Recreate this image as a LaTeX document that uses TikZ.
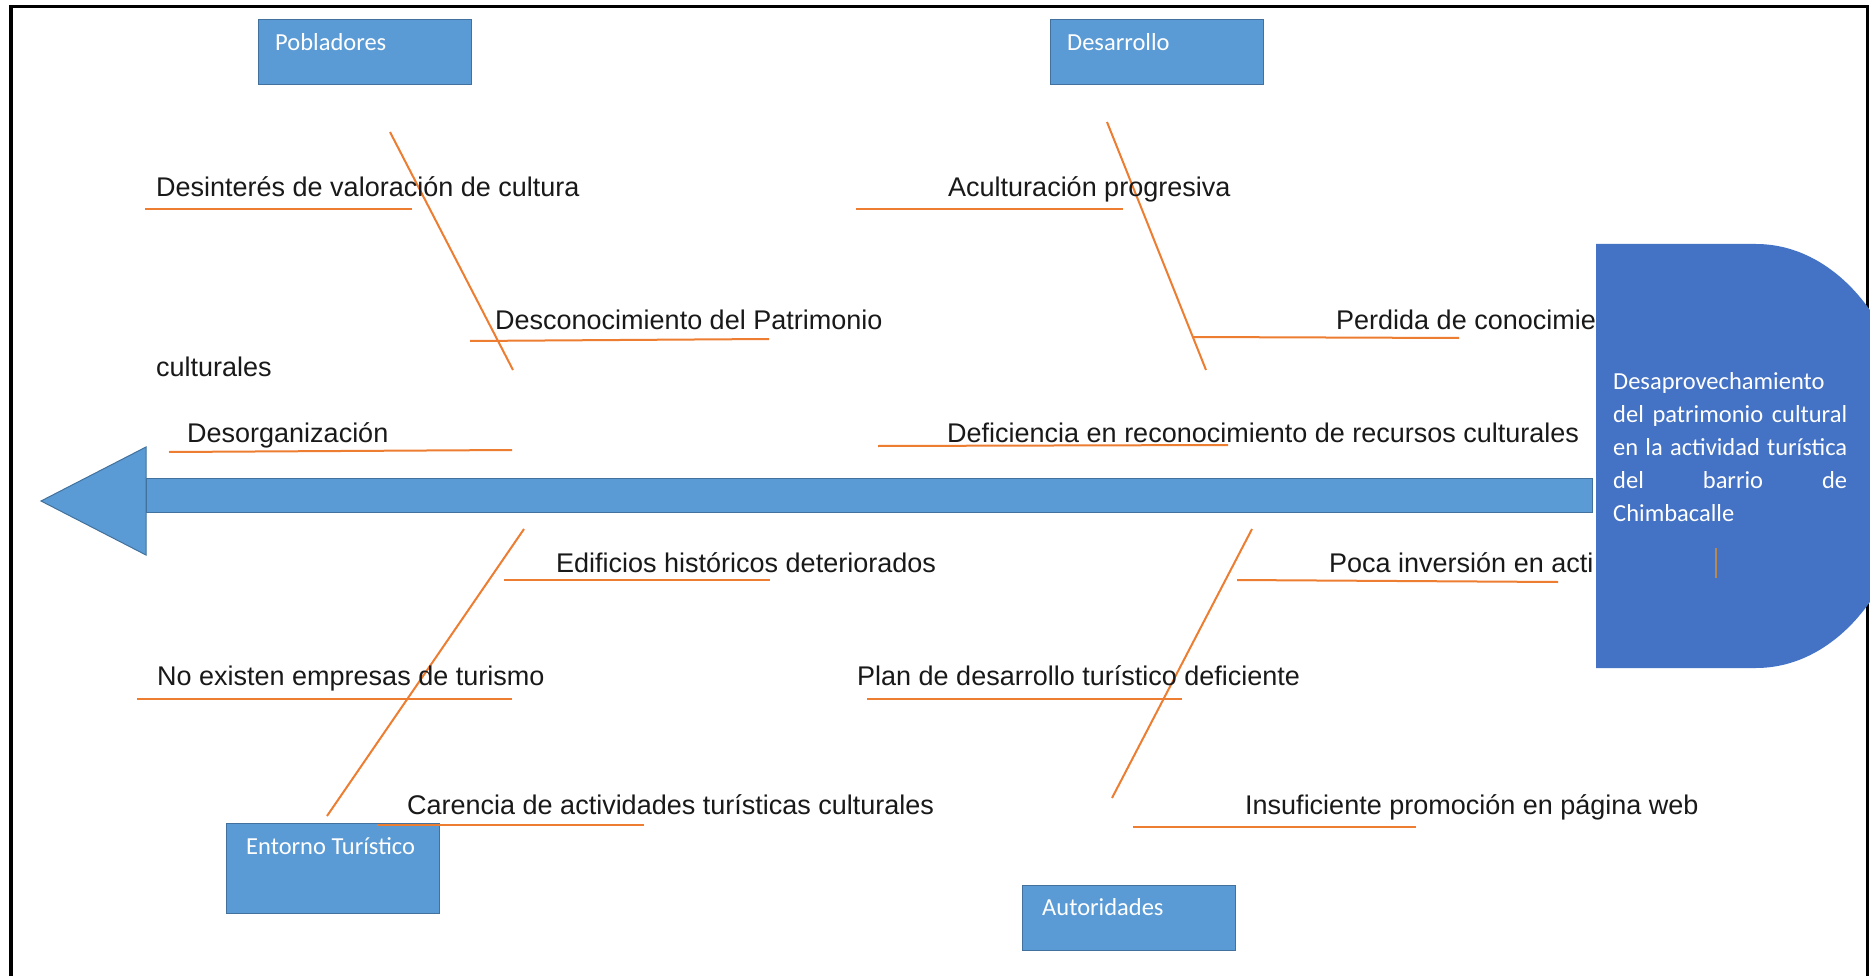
\documentclass[tikz,border=0pt]{standalone}
\usepackage{fontspec}
\newfontfamily\arialf{Liberation Sans}
\newfontfamily\carl{Carlito}
\definecolor{boxblue}{HTML}{5B9BD5}
\definecolor{boxedge}{HTML}{41719C}
\definecolor{goalblue}{HTML}{4472C4}
\definecolor{bone}{HTML}{ED7D31}
\definecolor{cursorc}{HTML}{B8894F}
\begin{document}
\begin{tikzpicture}[x=1pt,y=-1pt,
  catbox/.style={draw=boxedge, line width=1.2pt, fill=boxblue, rectangle, inner sep=0pt, minimum width=213pt, anchor=north west},
  cattext/.style={text=white, font=\carl\fontsize{24.5}{29}\selectfont, inner sep=0pt, anchor=base west},
  lbl/.style={text=black!90, font=\arialf\fontsize{27}{32}\selectfont, inner sep=0pt, anchor=base west},
  bonel/.style={draw=bone, line width=2pt},
  goaltext/.style={text=white, font=\carl\fontsize{24.5}{29}\selectfont, inner sep=0pt, anchor=base west},
  spine/.style={fill=boxblue, draw=boxedge, line width=1pt},
]
\useasboundingbox (0,0) rectangle (1870,976);
\clip (0,0) rectangle (1870,976);
\fill[white] (0,0) rectangle (1870,976);

% frame
\draw[line width=3.5pt] (11,990) -- (11,6.5) -- (1867.5,6.5) -- (1867.5,990);

% spine arrow
\draw[spine] (146,478) rectangle (1592,512);
\draw[spine] (41,501) -- (146,447) -- (146,555) -- cycle;

% bones
\coordinate (pA) at (390,132); \coordinate (pB) at (513,370);
\coordinate (dA) at (1107,122); \coordinate (dB) at (1206,370);
\coordinate (eA) at (524,529); \coordinate (eB) at (327,816);
\coordinate (aA) at (1252,529); \coordinate (aB) at (1112,798);
\draw[bonel] (pA) -- (pB);
\draw[bonel] (dA) -- (dB);
\draw[bonel] (eA) -- (eB);
\draw[bonel] (aA) -- (aB);

% underlines
\coordinate (u1a) at (145,209); \coordinate (u1b) at (412,209);
\coordinate (u2a) at (470,341); \coordinate (u2b) at (769,339);
\coordinate (u3a) at (169,452); \coordinate (u3b) at (512,450);
\coordinate (u4a) at (856,209); \coordinate (u4b) at (1123,209);
\coordinate (u5a) at (1193,337); \coordinate (u5b) at (1459,338);
\coordinate (u6a) at (878,446); \coordinate (u6b) at (1228,445);
\coordinate (u7a) at (504,580); \coordinate (u7b) at (770,580);
\coordinate (u8a) at (137,699); \coordinate (u8b) at (512,699);
\coordinate (u9a) at (377,825); \coordinate (u9b) at (644,825);
\coordinate (u10a) at (1237,580); \coordinate (u10b) at (1558,582);
\coordinate (u11a) at (867,699); \coordinate (u11b) at (1182,699);
\coordinate (u12a) at (1133,827); \coordinate (u12b) at (1416,827);
\foreach \i in {1,2,3,4,5,6,7,8,10,11,12} {\draw[bonel] (u\i a) -- (u\i b);}

% labels
\node[lbl] (t1) at (156,197) {Desinterés de valoración de cultura};
\node[lbl] (t2) at (495,329) {Desconocimiento del Patrimonio};
\node[lbl] (t2b) at (156,376) {culturales};
\node[lbl] (t3) at (187,442) {Desorganización};
\node[lbl] (t4) at (948,197) {Aculturación progresiva};
\node[lbl] (t5) at (1336,329) {Perdida de conocimie};
\node[lbl] (t6) at (947,442) {Deficiencia en reconocimiento de recursos culturales};
\node[lbl] (t7) at (556,572) {Edificios históricos deteriorados};
\node[lbl] (t8) at (157,685) {No existen empresas de turismo};
\node[lbl] (t9) at (407,814) {Carencia de actividades turísticas culturales};
\node[lbl] (t10) at (1329,572) {Poca inversión en acti};
\node[lbl] (t11) at (857,685) {Plan de desarrollo turístico deficiente};
\node[lbl] (t12) at (1245,814) {Insuficiente promoción en página web};

% category boxes
\node[catbox, minimum height=65pt] (pob) at (258,19) {};
\node[cattext] (pobt) at (275,51) {Pobladores};
\node[catbox, minimum height=65pt] (des) at (1050,19) {};
\node[cattext] (dest) at (1067,51) {Desarrollo};
\node[catbox, minimum height=90pt] (ent) at (226,823) {};
\node[cattext] (entt) at (246,854) {Entorno Turístico};
\node[catbox, minimum height=65pt] (aut) at (1022,885) {};
\node[cattext] (autt) at (1042,915) {Autoridades};
\draw[bonel] (u9a) -- (u9b);

% effect (head)
\fill[goalblue] (1596,244) -- (1756,244) .. controls (1842.7,244) and (1913,338.9) .. (1913,456)
  .. controls (1913,573.1) and (1842.7,668) .. (1756,668) -- (1596,668) -- cycle;
\node[goaltext] (g1) at (1613,389) {Desaprovechamiento};
\node[goaltext] (g2) at (1613,422.2) {\makebox[234pt][s]{del patrimonio cultural}};
\node[goaltext] (g3) at (1613,455.4) {\makebox[234pt][s]{en la actividad turística}};
\node[goaltext] (g4) at (1613,488.6) {\makebox[234pt][s]{del\hfill barrio\hfill de}};
\node[goaltext] (g5) at (1613,521.8) {Chimbacalle};
\coordinate (c1) at (1716,548); \coordinate (c2) at (1716,578);
\draw[cursorc, line width=2pt] (c1) -- (c2);
\end{tikzpicture}
\end{document}
